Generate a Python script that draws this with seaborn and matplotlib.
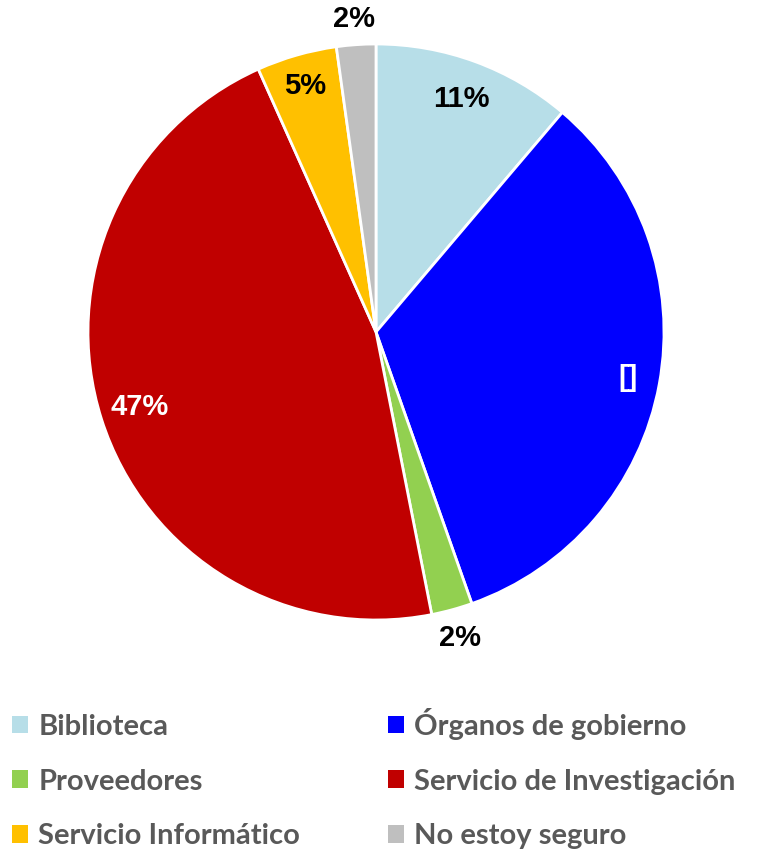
import numpy as np
import matplotlib
matplotlib.use("Agg")
import matplotlib.pyplot as plt
import seaborn as sns
from matplotlib.patches import Patch

sns.set_style("white")

categories = ['Biblioteca', 'Órganos de gobierno', 'Proveedores',
              'Servicio de Investigación', 'Servicio Informático', 'No estoy seguro']
values = [11.2, 33.4, 2.3, 46.4, 4.5, 2.2]
labels = ['11%', '[]', '2%', '47%', '5%', '2%']
colors = ['#B7DEE8', '#0000FF', '#92D050', '#C00000', '#FFC000', '#BFBFBF']
label_colors = ['black', 'white', 'black', 'white', 'black', 'black']
label_dist = [0.86, 0.89, 1.10, 0.86, 0.89, 1.09]

fig = plt.figure(figsize=(7.57, 8.49), dpi=100)
ax = fig.add_axes([88 / 757, 1 - 620 / 849, 576 / 757, 576 / 849])

wedges, _ = ax.pie(values, colors=colors, startangle=90, counterclock=False,
                   radius=1, wedgeprops=dict(edgecolor='white', linewidth=2))
ax.set_xlim(-1, 1)
ax.set_ylim(-1, 1)
ax.set_aspect('equal')
ax.axis('off')

for w, lab, col, d in zip(wedges, labels, label_colors, label_dist):
    ang = np.deg2rad((w.theta1 + w.theta2) / 2)
    ax.text(d * np.cos(ang), d * np.sin(ang), lab, ha='center', va='center',
            color=col, fontsize=21, fontweight='bold',
            family='Liberation Sans', clip_on=False)

# legend, column-first order
order = [0, 2, 4, 1, 3, 5]
handles = [Patch(facecolor=colors[i], edgecolor='none', label=categories[i]) for i in order]
leg = fig.legend(handles=handles, ncol=2, loc='upper left',
                 bbox_to_anchor=(12 / 757, 1 - 708 / 849), frameon=False,
                 prop={'family': 'Lato', 'weight': 'bold', 'size': 21},
                 handlelength=0.55, handleheight=0.55, handletextpad=0.35,
                 columnspacing=3.0, labelspacing=0.98,
                 borderaxespad=0, borderpad=0)
for t in leg.get_texts():
    t.set_color('#595959')

fig.savefig('out.png', dpi=100)
